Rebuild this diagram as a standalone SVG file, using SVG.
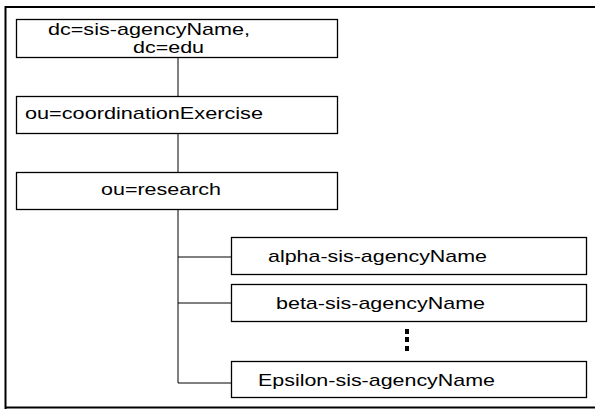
<svg xmlns="http://www.w3.org/2000/svg" width="595" height="409" viewBox="0 0 595 409">
<style>
.box{fill:#fff;stroke:#000;stroke-width:1.3}
.t{font-family:"Liberation Sans",Arial,sans-serif;font-size:17px;fill:#000}
.c{stroke:#000;stroke-width:1;fill:none}
</style>
<rect width="595" height="409" fill="#fff"/>
<path d="M5.5 409 V7 H600" stroke="#000" stroke-width="2" fill="none"/>
<path d="M5.5 407.5 H600" stroke="#000" stroke-width="2" fill="none"/>
<g id="connectors">
<line class="c" x1="178" y1="57" x2="178" y2="96"/>
<line class="c" x1="178" y1="133" x2="178" y2="172"/>
<line class="c" x1="178" y1="209" x2="178" y2="383"/>
<line class="c" x1="178" y1="257" x2="231" y2="257"/>
<line class="c" x1="178" y1="303" x2="231" y2="303"/>
<line class="c" x1="178" y1="383" x2="231" y2="383"/>
</g>
<g id="n1">
<rect class="box" x="16.5" y="19.5" width="321" height="38"/>
<text class="t" x="48" y="35" textLength="202" lengthAdjust="spacingAndGlyphs">dc=sis-agencyName,</text>
<text class="t" x="133" y="53" textLength="71" lengthAdjust="spacingAndGlyphs">dc=edu</text>
</g>
<g id="n2">
<rect class="box" x="16.5" y="96.5" width="321" height="37"/>
<text class="t" x="25" y="119" textLength="238" lengthAdjust="spacingAndGlyphs">ou=coordinationExercise</text>
</g>
<g id="n3">
<rect class="box" x="16.5" y="172.5" width="321" height="37"/>
<text class="t" x="101" y="195" textLength="120" lengthAdjust="spacingAndGlyphs">ou=research</text>
</g>
<g id="n4">
<rect class="box" x="231.5" y="237.5" width="355" height="37"/>
<text class="t" x="268" y="262" textLength="219" lengthAdjust="spacingAndGlyphs">alpha-sis-agencyName</text>
</g>
<g id="n5">
<rect class="box" x="231.5" y="284.5" width="355" height="37"/>
<text class="t" x="276" y="309" textLength="209" lengthAdjust="spacingAndGlyphs">beta-sis-agencyName</text>
</g>
<g id="dots">
<rect x="405" y="329" width="4" height="5" fill="#000"/>
<rect x="405" y="337" width="4" height="5" fill="#000"/>
<rect x="405" y="346" width="4" height="5" fill="#000"/>
</g>
<g id="n6">
<rect class="box" x="231.5" y="361.5" width="355" height="36"/>
<text class="t" x="258" y="386" textLength="237" lengthAdjust="spacingAndGlyphs">Epsilon-sis-agencyName</text>
</g>
</svg>
